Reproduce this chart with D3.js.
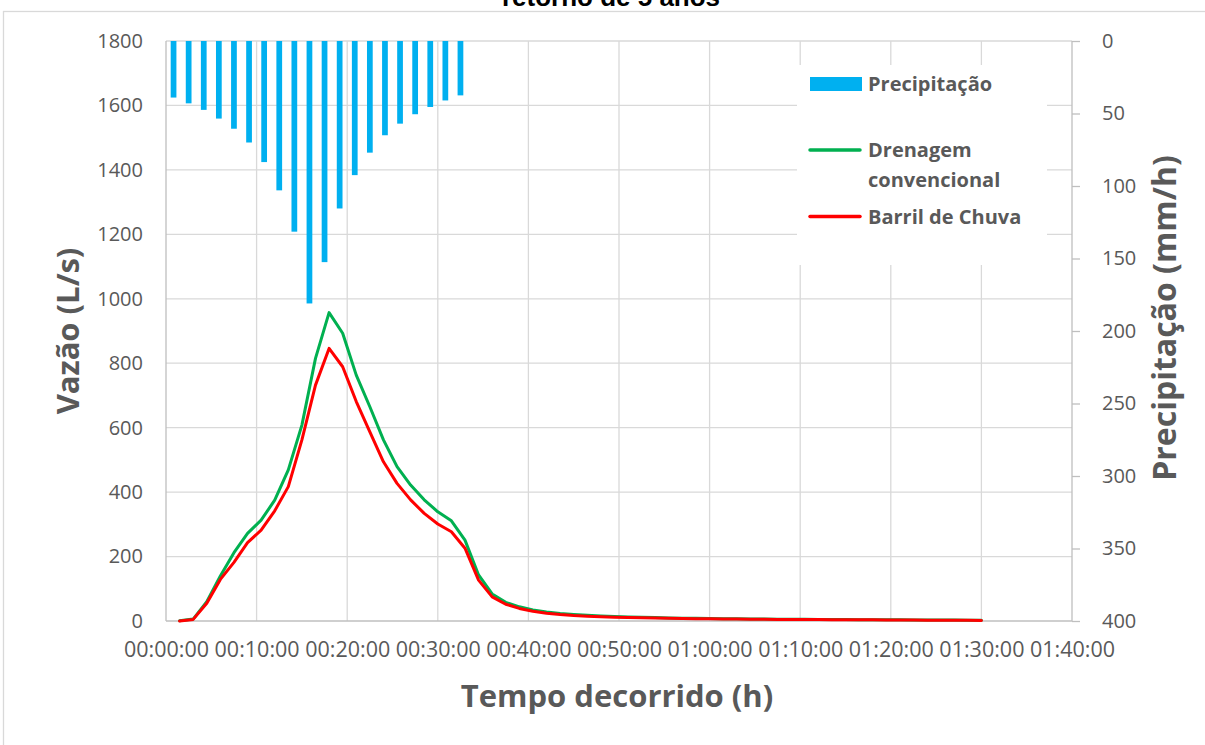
<!DOCTYPE html>
<html>
<head>
<meta charset="utf-8">
<script src="https://cdn.jsdelivr.net/npm/d3@7"></script>
<style>
  html, body { margin: 0; padding: 0; background: #fff; }
  svg { display: block; font-family: "Open Sans", sans-serif; }
</style>
</head>
<body>
<svg id="chart" width="1205" height="745"></svg>
<script>
// Time steps of the simulation (minutes)
const stepsMin = [1.5, 3, 4.5, 6, 7.5, 9, 10.5, 12, 13.5, 15, 16.5, 18, 19.5, 21, 22.5, 24, 25.5, 27, 28.5, 30,
  31.5, 33, 34.5, 36, 37.5, 39, 40.5, 42, 43.5, 45, 46.5, 48, 49.5, 51, 52.5, 54, 55.5, 57, 58.5, 60,
  61.5, 63, 64.5, 66, 67.5, 69, 70.5, 72, 73.5, 75, 76.5, 78, 79.5, 81, 82.5, 84, 85.5, 87, 88.5, 90];

// Rainfall intensity (mm/h), alternating-block hyetograph
const rain = [39, 43, 47.5, 53.5, 60.5, 70, 83.5, 103, 131.5, 181, 152.5, 115.5, 92.5, 77, 65, 57, 50.5, 45.5, 41, 37.5];

// Outflow (L/s) - conventional drainage
const drainage = [1, 6, 60, 140, 212, 272, 313, 375, 469, 608, 815, 957, 893, 763, 665, 562, 479, 422, 376, 339,
  311, 251, 143, 84, 58, 44, 34, 28, 23, 20, 17.5, 15.5, 14, 12.5, 11.5, 10.5, 9.6, 8.9, 8.3, 7.8,
  7.3, 6.9, 6.5, 6.1, 5.8, 5.5, 5.2, 4.9, 4.6, 4.4, 4.2, 4.0, 3.8, 3.6, 3.4, 3.2, 3.0, 2.8, 2.6, 2.4];

// Outflow (L/s) - with rain barrels
const rainBarrel = [0, 5, 55, 129, 182, 243, 282, 342, 417, 562, 732, 846, 789, 681, 587, 494, 427, 376, 334, 301,
  277, 226, 127, 75, 52, 39, 30, 24, 20, 17, 15, 13.3, 12, 10.8, 9.8, 9.0, 8.3, 7.7, 7.2, 6.7,
  6.3, 5.9, 5.6, 5.3, 5.0, 4.7, 4.5, 4.3, 4.1, 3.9, 3.7, 3.5, 3.3, 3.1, 2.9, 2.7, 2.5, 2.3, 2.1, 1.9];

// Axis ticks
const timeTicks = [0, 10, 20, 30, 40, 50, 60, 70, 80, 90, 100];
const timeLabels = ["00:00:00", "00:10:00", "00:20:00", "00:30:00", "00:40:00", "00:50:00",
  "01:00:00", "01:10:00", "01:20:00", "01:30:00", "01:40:00"];
const flowTicks = [0, 200, 400, 600, 800, 1000, 1200, 1400, 1600, 1800];
const rainTicks = [0, 50, 100, 150, 200, 250, 300, 350, 400];

const legendLabels = ["Precipitação", ["Drenagem", "convencional"], "Barril de Chuva"];

// Layout
const W = 1205, H = 745;
const plot = { left: 166, right: 1072, top: 41, bottom: 621 };
const TEXT = "#595959", GRID = "#D9D9D9", AXIS = "#BFBFBF";
const BLUE = "#00B0F0", GREEN = "#00B050", RED = "#FF0000";

const svg = d3.select("#chart");
svg.append("rect").attr("width", W).attr("height", H).attr("fill", "#fff");

// chart frame
svg.append("rect")
  .attr("x", 3.5).attr("y", 11.5).attr("width", W + 20).attr("height", H + 20)
  .attr("fill", "none").attr("stroke", GRID).attr("stroke-width", 1.3);

// title (second line)
svg.append("text")
  .attr("x", 611).attr("y", 6)
  .attr("text-anchor", "middle")
  .attr("font-family", "'Liberation Sans', Arial, sans-serif")
  .attr("font-weight", "bold").attr("font-size", 26).attr("fill", "#000")
  .text("retorno de 5 anos");

// Scales
const x = d3.scaleLinear().domain([0, 100]).range([plot.left, plot.right]);
const yFlow = d3.scaleLinear().domain([0, 1800]).range([plot.bottom, plot.top]);
const yRain = d3.scaleLinear().domain([0, 400]).range([plot.top, plot.bottom]);
const xBand = d3.scaleBand().domain(stepsMin).range([plot.left, plot.right])
  .paddingInner(0.62).paddingOuter(0.31);

// Gridlines
const grid = svg.append("g").attr("stroke", GRID).attr("stroke-width", 1.3);
grid.selectAll("line.h").data(flowTicks.filter(d => d > 0)).join("line")
  .attr("x1", plot.left).attr("x2", plot.right)
  .attr("y1", d => yFlow(d)).attr("y2", d => yFlow(d));
grid.selectAll("line.v").data(timeTicks.filter(d => d > 0 && d < 100)).join("line")
  .attr("y1", plot.top).attr("y2", plot.bottom)
  .attr("x1", d => x(d)).attr("x2", d => x(d));

// Rain bars hanging from the top (reversed secondary axis)
svg.append("g").selectAll("rect").data(rain).join("rect")
  .attr("x", (d, i) => xBand(stepsMin[i]))
  .attr("width", xBand.bandwidth())
  .attr("y", yRain(0))
  .attr("height", d => yRain(d) - yRain(0))
  .attr("fill", BLUE);

// Axes
function styleAxis(g) {
  g.select(".domain").remove();
  g.selectAll("text").attr("fill", TEXT).attr("font-family", "'Open Sans', sans-serif");
}

svg.append("g").attr("transform", `translate(${plot.left},0)`)
  .call(d3.axisLeft(yFlow).tickValues(flowTicks).tickFormat(d3.format("d")).tickSize(0).tickPadding(23))
  .call(styleAxis)
  .selectAll("text").attr("font-size", 20);

const rAxis = svg.append("g").attr("transform", `translate(${plot.right},0)`)
  .call(d3.axisRight(yRain).tickValues(rainTicks).tickFormat(d3.format("d")).tickSize(8).tickPadding(22))
  .call(styleAxis);
rAxis.selectAll("text").attr("font-size", 20).attr("text-anchor", "start");
rAxis.selectAll(".tick line").attr("stroke", AXIS).attr("stroke-width", 1.3);

svg.append("g").attr("transform", `translate(0,${plot.bottom})`)
  .call(d3.axisBottom(x).tickValues(timeTicks).tickFormat((d, i) => timeLabels[i]).tickSize(0).tickPadding(21))
  .call(styleAxis)
  .selectAll("text").attr("font-size", 21.5);

// Axis lines
const axisLines = svg.append("g").attr("stroke", AXIS).attr("stroke-width", 1.3);
axisLines.append("line").attr("x1", plot.left).attr("x2", plot.left).attr("y1", plot.top).attr("y2", plot.bottom);
axisLines.append("line").attr("x1", plot.right).attr("x2", plot.right).attr("y1", plot.top).attr("y2", plot.bottom);
axisLines.append("line").attr("x1", plot.left).attr("x2", plot.right).attr("y1", plot.bottom).attr("y2", plot.bottom);

// Hydrograph lines
const line = d3.line().x((d, i) => x(stepsMin[i])).y(d => yFlow(d));
svg.append("path").datum(drainage).attr("d", line)
  .attr("fill", "none").attr("stroke", GREEN).attr("stroke-width", 3)
  .attr("stroke-linejoin", "round").attr("stroke-linecap", "round");
svg.append("path").datum(rainBarrel).attr("d", line)
  .attr("fill", "none").attr("stroke", RED).attr("stroke-width", 3)
  .attr("stroke-linejoin", "round").attr("stroke-linecap", "round");

// Axis titles
svg.append("text")
  .attr("transform", "translate(79,331) rotate(-90)")
  .attr("text-anchor", "middle")
  .attr("font-weight", "bold").attr("font-size", 31).attr("fill", TEXT)
  .text("Vazão (L/s)");
svg.append("text")
  .attr("transform", "translate(1176,318) rotate(-90)")
  .attr("text-anchor", "middle")
  .attr("font-weight", "bold").attr("font-size", 32).attr("fill", TEXT)
  .text("Precipitação (mm/h)");
svg.append("text")
  .attr("x", 617).attr("y", 707)
  .attr("text-anchor", "middle")
  .attr("font-weight", "bold").attr("font-size", 31).attr("fill", TEXT)
  .text("Tempo decorrido (h)");

// Legend
const lg = svg.append("g");
lg.append("rect").attr("x", 797).attr("y", 65).attr("width", 250).attr("height", 200).attr("fill", "#fff");
lg.append("rect").attr("x", 810).attr("y", 77).attr("width", 52).attr("height", 14).attr("fill", BLUE);
lg.append("line").attr("x1", 810).attr("x2", 860).attr("y1", 150).attr("y2", 150)
  .attr("stroke", GREEN).attr("stroke-width", 3.5).attr("stroke-linecap", "round");
lg.append("line").attr("x1", 810).attr("x2", 860).attr("y1", 216.5).attr("y2", 216.5)
  .attr("stroke", RED).attr("stroke-width", 3.5).attr("stroke-linecap", "round");
const lt = lg.append("g").attr("font-weight", "bold").attr("font-size", 20).attr("fill", TEXT);
lt.append("text").attr("x", 868).attr("y", 91).text(legendLabels[0]);
lt.append("text").attr("x", 868).attr("y", 157).text(legendLabels[1][0]);
lt.append("text").attr("x", 868).attr("y", 187).text(legendLabels[1][1]);
lt.append("text").attr("x", 868).attr("y", 223.5).text(legendLabels[2]);
</script>
</body>
</html>
